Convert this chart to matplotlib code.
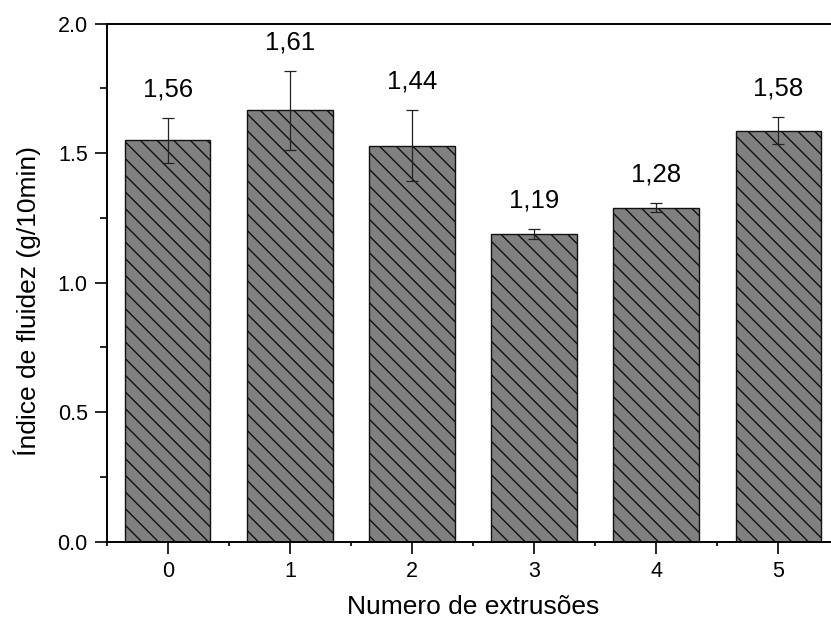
import matplotlib.pyplot as plt
import numpy as np
from matplotlib.ticker import MultipleLocator, FormatStrFormatter

plt.rcParams['font.family'] = ['Liberation Sans', 'DejaVu Sans']
plt.rcParams['hatch.linewidth'] = 1.0

# data
extrusions = [0, 1, 2, 3, 4, 5]
mfi = [1.55, 1.665, 1.528, 1.189, 1.290, 1.586]
mfi_err = [0.086, 0.153, 0.137, 0.019, 0.018, 0.052]
bar_labels = ['1,56', '1,61', '1,44', '1,19', '1,28', '1,58']

fig = plt.figure(figsize=(8.31, 6.2), dpi=100)
ax = fig.add_axes([0.1284, 0.1263, 0.8816, 0.8355])

x = np.array(extrusions)
ax.bar(x, mfi, width=0.7, color='#808080', edgecolor='#111111',
       linewidth=1.0, hatch='\\\\')
ax.errorbar(x, mfi, yerr=mfi_err, fmt='none', ecolor='#222222',
            elinewidth=0.9, capsize=4.5, capthick=0.9)

for xi, yi, ei, lab in zip(x, mfi, mfi_err, bar_labels):
    ax.annotate(lab, xy=(xi, yi + ei), xytext=(0, 20.5),
                textcoords='offset points', ha='center', va='center',
                fontsize=18.5)

ax.set_xlim(-0.5, 5.5)
ax.set_ylim(0, 2.0)
ax.set_xticks(extrusions)
ax.xaxis.set_minor_locator(MultipleLocator(0.5))
ax.yaxis.set_major_locator(MultipleLocator(0.5))
ax.yaxis.set_minor_locator(MultipleLocator(0.25))
ax.yaxis.set_major_formatter(FormatStrFormatter('%.1f'))

ax.tick_params(axis='both', which='major', direction='out', length=8.6,
               width=1.2, labelsize=15.5, pad=5)
ax.tick_params(axis='y', which='minor', direction='out', length=5, width=1.2)
ax.tick_params(axis='x', which='minor', direction='out', length=3, width=1.2)

for s in ax.spines.values():
    s.set_linewidth(1.4)

ax.set_xlabel('Numero de extrusões', fontsize=19, labelpad=10)
ax.set_ylabel('Índice de fluidez (g/10min)', fontsize=19)
ax.yaxis.set_label_coords(-0.09, 0.465)

fig.savefig('out.png', dpi=100)
